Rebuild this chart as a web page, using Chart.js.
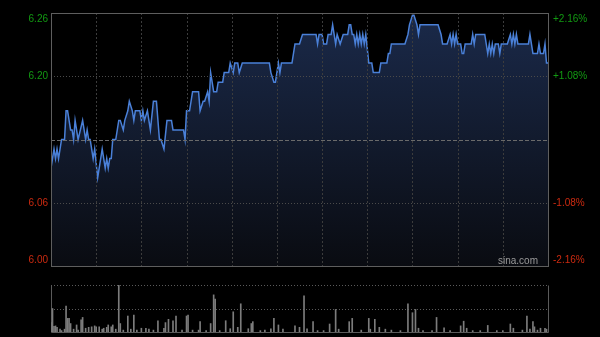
<!DOCTYPE html>
<html>
<head>
<title>Intraday</title>
<script src="https://cdn.jsdelivr.net/npm/chart.js@4.4.0/dist/chart.umd.min.js"></script>
<style>
    body { margin: 0; background: #000; width: 600px; height: 337px; overflow: hidden; }
    .box { position: absolute; left: 0; width: 600px; }
    #mainBox { top: 0; height: 275px; }
    #volBox { top: 275px; height: 62px; }
</style>
</head>
<body>
<div class="box" id="mainBox"><canvas id="priceChart"></canvas></div>
<div class="box" id="volBox"><canvas id="volChart"></canvas></div>
<script>
    // HK session: 9:30-12:00 + 13:00-16:00 = 330 minutes
    const prevClose = 6.13;
    const sessionMinutes = 330;
    const gridMinutes = [30, 60, 90, 120, 150, 180, 210, 240, 270, 300];
    const leftLabels = ['6.26', '6.20', '6.06', '6.00'];
    const rightLabels = ['+2.16%', '+1.08%', '-1.08%', '-2.16%'];
    const labelPcts = [0.0216, 0.0108, -0.0108, -0.0216];

    // [minute, price]
    const priceTicks = [
        [0, 6.10], [2, 6.12], [3, 6.11], [4, 6.12], [5, 6.11], [7, 6.13], [9, 6.13], [10, 6.16], [11, 6.16],
        [13, 6.14], [14, 6.14], [15, 6.13], [16, 6.15], [18, 6.13], [21, 6.15], [23, 6.13], [24, 6.14],
        [25, 6.13], [26, 6.13], [27, 6.12], [28, 6.11], [29, 6.12], [31, 6.09], [32, 6.10], [34, 6.12],
        [35, 6.11], [36, 6.10], [37, 6.11], [38, 6.10], [39, 6.11], [40, 6.11], [41, 6.13], [43, 6.13],
        [45, 6.15], [46, 6.15], [48, 6.14], [49, 6.15], [51, 6.16], [52, 6.17], [54, 6.16], [55, 6.15],
        [56, 6.16], [59, 6.16], [60, 6.15], [61, 6.16], [62, 6.15], [64, 6.16], [66, 6.14], [68, 6.17],
        [70, 6.17], [72, 6.13], [73, 6.13], [75, 6.12], [77, 6.15], [80, 6.15], [81, 6.14], [88, 6.14],
        [89, 6.13], [90, 6.16], [92, 6.16], [94, 6.18], [98, 6.18], [99, 6.16], [101, 6.17], [102, 6.17],
        [104, 6.18], [105, 6.17], [106, 6.20], [108, 6.18], [110, 6.18], [111, 6.19], [114, 6.19],
        [115, 6.20], [118, 6.20], [119, 6.21], [121, 6.20], [122, 6.21], [124, 6.21], [125, 6.20],
        [127, 6.21], [145, 6.21], [146, 6.20], [148, 6.19], [149, 6.19], [151, 6.21], [152, 6.20],
        [153, 6.21], [160, 6.21], [162, 6.23], [165, 6.23], [167, 6.24], [176, 6.24], [177, 6.23],
        [178, 6.24], [180, 6.24], [181, 6.23], [183, 6.23], [184, 6.24], [186, 6.24], [187, 6.25],
        [188, 6.24], [189, 6.23], [190, 6.24], [192, 6.23], [194, 6.24], [197, 6.24], [198, 6.25],
        [199, 6.25], [200, 6.24], [201, 6.24], [202, 6.23], [203, 6.24], [204, 6.23], [205, 6.24],
        [206, 6.23], [207, 6.24], [208, 6.23], [209, 6.24], [211, 6.21], [213, 6.21], [214, 6.20],
        [218, 6.20], [219, 6.21], [223, 6.21], [224, 6.22], [225, 6.22], [226, 6.23], [235, 6.23],
        [237, 6.24], [238, 6.25], [240, 6.26], [241, 6.26], [243, 6.25], [244, 6.24], [245, 6.25],
        [257, 6.25], [259, 6.24], [260, 6.23], [263, 6.23], [265, 6.24], [266, 6.23], [267, 6.24],
        [268, 6.23], [269, 6.24], [270, 6.23], [272, 6.23], [273, 6.22], [274, 6.22], [275, 6.23],
        [279, 6.23], [280, 6.24], [281, 6.23], [282, 6.24], [288, 6.24], [290, 6.22], [291, 6.23],
        [292, 6.22], [293, 6.23], [294, 6.22], [295, 6.23], [297, 6.23], [298, 6.22], [299, 6.23],
        [303, 6.23], [305, 6.24], [306, 6.23], [307, 6.24], [308, 6.23], [309, 6.24], [310, 6.23],
        [317, 6.23], [318, 6.24], [320, 6.22], [323, 6.22], [324, 6.23], [325, 6.22], [327, 6.22],
        [328, 6.23], [329, 6.21], [330, 6.21]
    ];

    // [minute, volume] (relative units, axis max 100)
    const volumeTicks = [
        [0, 20], [1, 50], [2, 12], [3, 13], [4, 10], [6, 6], [7, 3], [9, 6], [10, 55], [11, 29], [12, 29],
        [13, 18], [15, 6], [17, 15], [18, 4], [20, 26], [21, 31], [23, 8], [25, 10], [27, 11], [29, 13],
        [30, 11], [32, 11], [34, 6], [35, 8], [37, 10], [38, 15], [40, 11], [41, 15], [43, 6], [45, 100],
        [46, 18], [48, 4], [51, 34], [53, 6], [55, 36], [57, 4], [60, 8], [63, 8], [65, 6], [68, 4],
        [71, 24], [75, 8], [76, 20], [78, 27], [81, 24], [83, 34], [87, 4], [90, 34], [91, 36], [94, 4],
        [98, 4], [99, 22], [103, 3], [106, 18], [108, 79], [109, 70], [112, 3], [116, 24], [119, 7],
        [121, 43], [124, 10], [126, 60], [131, 7], [133, 18], [134, 22], [139, 3], [142, 4], [146, 7],
        [148, 29], [151, 15], [154, 6], [162, 13], [165, 10], [168, 77], [170, 7], [174, 22], [177, 3],
        [181, 3], [185, 17], [189, 48], [191, 6], [198, 22], [200, 29], [206, 4], [211, 29], [212, 6],
        [215, 27], [218, 10], [222, 6], [226, 4], [232, 3], [237, 60], [240, 41], [242, 48], [244, 8],
        [247, 3], [253, 3], [256, 31], [261, 9], [265, 3], [272, 13], [274, 23], [276, 8], [280, 3],
        [285, 3], [290, 14], [296, 3], [300, 3], [305, 17], [307, 8], [313, 4], [316, 34], [318, 6],
        [320, 22], [321, 11], [323, 4], [325, 8], [328, 8], [329, 6]
    ];

    const font = '10px "Liberation Sans", Arial, sans-serif';
    const upColor = '#129a12';
    const downColor = '#cc2a10';

    function dottedLine(ctx, x1, y1, x2, y2, color, dash) {
        ctx.save();
        ctx.strokeStyle = color;
        ctx.lineWidth = 1;
        ctx.setLineDash(dash);
        ctx.beginPath();
        ctx.moveTo(x1, y1);
        ctx.lineTo(x2, y2);
        ctx.stroke();
        ctx.restore();
    }

    const priceFrame = {
        id: 'priceFrame',
        afterDatasetsDraw(chart) {
            const { ctx, chartArea: a, scales } = chart;
            for (const m of gridMinutes) {
                const x = Math.round(scales.x.getPixelForValue(m)) + 0.5;
                dottedLine(ctx, x, a.top, x, a.bottom, '#3c3c3c', [2, 2]);
            }
            for (const p of [0.0108, -0.0108]) {
                const y = Math.round(scales.y.getPixelForValue(prevClose * (1 + p))) + 0.5;
                dottedLine(ctx, a.left, y, a.right, y, '#4a4a4a', [1, 2]);
            }
            const yc = Math.round(scales.y.getPixelForValue(prevClose)) + 0.5;
            dottedLine(ctx, a.left, yc, a.right, yc, '#6a6a6a', [4, 2]);
            ctx.save();
            ctx.strokeStyle = '#5e5e5e';
            ctx.lineWidth = 1;
            ctx.strokeRect(Math.round(a.left) + 0.5, Math.round(a.top) + 0.5,
                Math.round(a.right - a.left), Math.round(a.bottom - a.top));
            ctx.restore();
        },
        afterDraw(chart) {
            const { ctx, chartArea: a, scales } = chart;
            ctx.save();
            ctx.font = font;
            ctx.textBaseline = 'middle';
            labelPcts.forEach((p, i) => {
                let y = scales.y.getPixelForValue(prevClose * (1 + p));
                if (i === 0) y += 6;
                if (i === labelPcts.length - 1) y -= 6;
                ctx.fillStyle = p > 0 ? upColor : downColor;
                ctx.textAlign = 'right';
                ctx.fillText(leftLabels[i], a.left - 3, y);
                ctx.textAlign = 'left';
                ctx.fillText(rightLabels[i], a.right + 5, y);
            });
            ctx.fillStyle = '#9a9a9a';
            ctx.textAlign = 'right';
            ctx.fillText('sina.com', a.right - 10, a.bottom - 5);
            ctx.restore();
        }
    };

    new Chart(document.getElementById('priceChart'), {
        type: 'line',
        data: {
            datasets: [{
                data: priceTicks.map(t => ({ x: t[0], y: t[1] })),
                borderColor: '#4a80d8',
                borderWidth: 1.5,
                pointRadius: 0,
                tension: 0,
                fill: 'start',
                backgroundColor: function (context) {
                    const area = context.chart.chartArea;
                    if (!area) return 'rgba(25,40,70,0.8)';
                    const g = context.chart.ctx.createLinearGradient(0, area.top, 0, area.bottom);
                    g.addColorStop(0, 'rgba(28,44,78,0.95)');
                    g.addColorStop(1, 'rgba(10,12,18,0.95)');
                    return g;
                }
            }]
        },
        options: {
            responsive: true,
            maintainAspectRatio: false,
            animation: false,
            layout: { padding: { left: 51, right: 52, top: 13, bottom: 9 } },
            plugins: { legend: { display: false }, tooltip: { enabled: false } },
            scales: {
                x: { type: 'linear', min: 0, max: sessionMinutes, display: false },
                y: { min: prevClose * (1 - 0.0216), max: prevClose * (1 + 0.0216), display: false }
            }
        },
        plugins: [priceFrame]
    });

    const volFrame = {
        id: 'volFrame',
        beforeDatasetsDraw(chart) {
            const { ctx, chartArea: a, scales } = chart;
            const yt = Math.round(a.top) + 0.5;
            const ym = Math.round(scales.y.getPixelForValue(50)) + 0.5;
            dottedLine(ctx, a.left, yt, a.right, yt, '#5a5a5a', [1, 2]);
            dottedLine(ctx, a.left, ym, a.right, ym, '#5a5a5a', [1, 2]);
            const l = Math.round(a.left) + 0.5, r = Math.round(a.right) + 0.5, b = Math.round(a.bottom) + 0.5;
            ctx.save();
            ctx.strokeStyle = '#5a5a5a';
            ctx.lineWidth = 1;
            ctx.beginPath();
            ctx.moveTo(l, yt); ctx.lineTo(l, b); ctx.lineTo(r, b); ctx.lineTo(r, yt);
            ctx.stroke();
            ctx.restore();
        }
    };

    new Chart(document.getElementById('volChart'), {
        type: 'bar',
        data: {
            datasets: [{
                data: volumeTicks.map(t => ({ x: t[0], y: t[1] })),
                backgroundColor: '#7c7c7c',
                barThickness: 1,
                borderWidth: 0
            }]
        },
        options: {
            responsive: true,
            maintainAspectRatio: false,
            animation: false,
            layout: { padding: { left: 51, right: 52, top: 10, bottom: 5 } },
            plugins: { legend: { display: false }, tooltip: { enabled: false } },
            scales: {
                x: { type: 'linear', min: 0, max: sessionMinutes, display: false, offset: false },
                y: { min: 0, max: 100, display: false }
            }
        },
        plugins: [volFrame]
    });
</script>
</body>
</html>
